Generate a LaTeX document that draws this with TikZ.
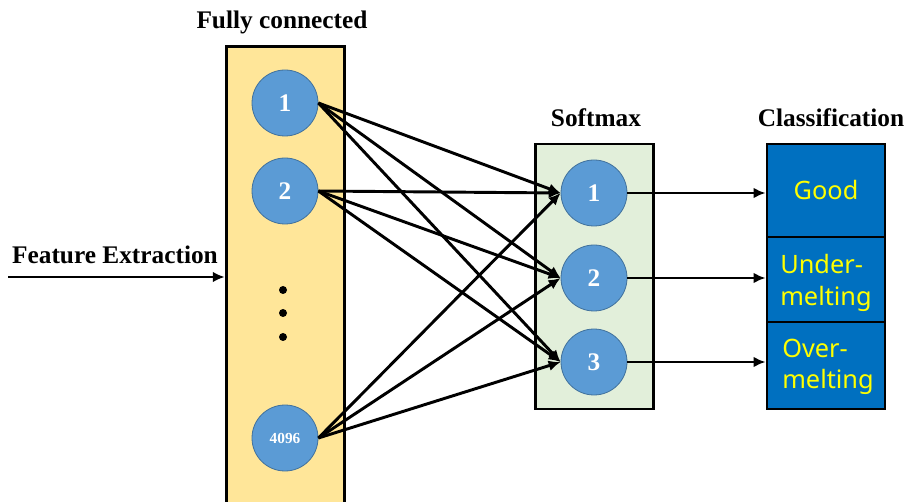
\documentclass[tikz,border=0pt]{standalone}
\usepackage{fontspec}
\setmainfont{Liberation Serif}
\newfontfamily\clsfont{Noto Sans}
\usetikzlibrary{arrows.meta}
\definecolor{fcyellow}{HTML}{FFE699}
\definecolor{smgreen}{HTML}{E2EFDA}
\definecolor{nodeblue}{HTML}{5B9BD5}
\definecolor{nodeedge}{HTML}{41719C}
\definecolor{clsblue}{HTML}{0070C0}
\definecolor{clstext}{HTML}{FFFF00}
\begin{document}
\begin{tikzpicture}[x=0.75pt,y=-0.75pt,
  layerbox/.style={draw=black,line width=2.1pt,rectangle,minimum width=89pt,inner sep=0pt},
  neuron/.style={circle,fill=nodeblue,draw=nodeedge,line width=0.6pt,minimum size=49.5pt,inner sep=0pt,
    text=white,font=\bfseries\fontsize{19}{19}\selectfont},
  title/.style={font=\bfseries\fontsize{19}{22}\selectfont},
  cell/.style={rectangle,fill=clsblue,draw=black,line width=2.1pt,minimum width=88.5pt,inner sep=0pt},
  clslabel/.style={text=clstext,font=\clsfont\fontsize{19}{23.5}\selectfont,align=left},
  link/.style={line width=2.2pt,-{Latex[length=9pt,width=8pt]}},
  dot/.style={circle,fill=black,minimum size=6pt,inner sep=0pt}]
\useasboundingbox (0,0) rectangle (907,502);
\clip (0,0) rectangle (907,502);

% layer boxes (the fully connected column runs off the bottom edge)
\node[layerbox,fill=fcyellow,minimum height=385pt] (fc) at (285.5,303.5) {};
\node[layerbox,fill=smgreen,minimum height=198.75pt] (sm) at (594.5,276.5) {};

% classification column
\node[cell,minimum height=69.75pt] (c1) at (826,190.5) {};
\node[cell,minimum height=63.75pt] (c2) at (826,279.5) {};
\node[cell,minimum height=65.25pt] (c3) at (826,365.5) {};
\node[clslabel] (t1) at (826,190) {Good};
\node[clslabel] (t2) at (826,283) {Under-\\melting};
\node[clslabel] (t3) at (828,367) {Over-\\melting};

% titles
\node[title] (tfc) at (282,22) {Fully connected};
\node[title] (tsm) at (596,118) {Softmax};
\node[title] (tcl) at (831,118) {Classification};
\node[title] (tfe) at (115,255) {Feature Extraction};

% fully connected neurons
\node[neuron] (f1) at (285,103) {1};
\node[neuron] (f2) at (285,191) {2};
\node[neuron,font=\bfseries\fontsize{11.5}{12}\selectfont] (f4) at (285,438) {4096};
\node[dot] (d1) at (283,290) {};
\node[dot] (d2) at (283,313) {};
\node[dot] (d3) at (283,337) {};

% softmax neurons
\node[neuron] (s1) at (594,193) {1};
\node[neuron] (s2) at (594,278) {2};
\node[neuron] (s3) at (594,362) {3};

% input arrow
\coordinate (in) at (8,277);
\draw[link] (in) -- (in -| fc.west);

% dense connections
\foreach \a in {f1,f2,f4}
  \foreach \b in {s1,s2,s3}
    \draw[link] (\a.east) -- (\b.west);

% outputs
\foreach \b in {s1,s2,s3}
  \draw[link] (\b.east) -- (\b.east -| c1.west);
\end{tikzpicture}
\end{document}
